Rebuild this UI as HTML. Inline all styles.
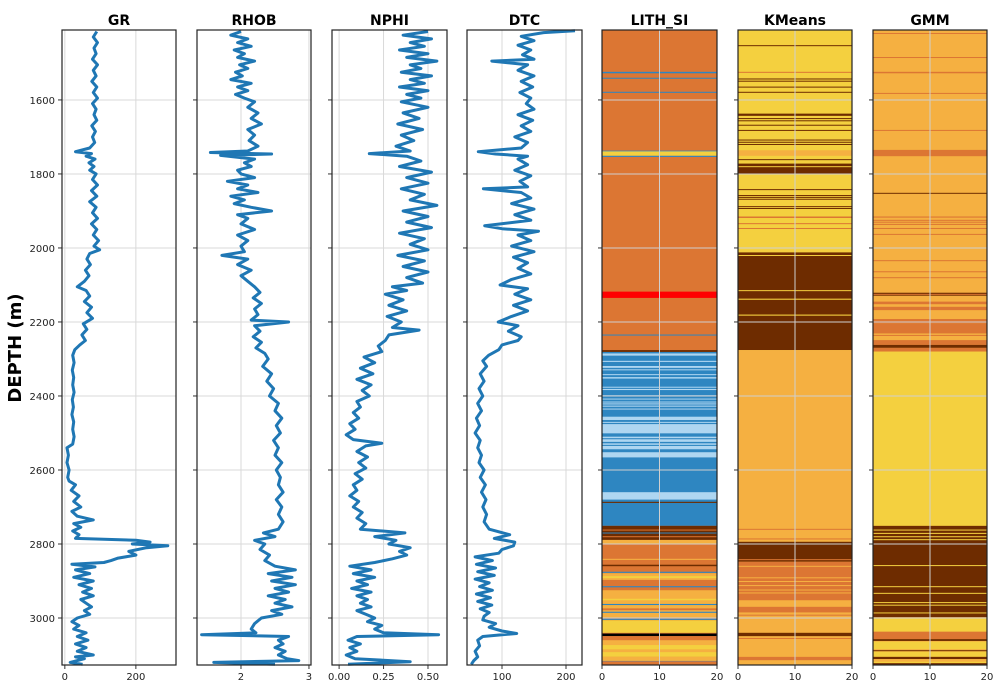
<!DOCTYPE html>
<html><head><meta charset="utf-8"><style>
body{margin:0;background:#fff;}
svg{display:block;font-family:"DejaVu Sans","Liberation Sans",sans-serif;}
</style></head><body>
<svg id="chart" width="1000" height="689" viewBox="0 0 1000 689"></svg>
<script>
// ---- data ----
const grDepth=[1415,1430,1445,1460,1475,1490,1505,1520,1535,1550,1565,1580,1595,1610,1625,1640,1655,1670,1685,1700,1715,1730,1740,1745,1752,1760,1770,1780,1790,1800,1815,1830,1845,1860,1875,1890,1905,1920,1935,1950,1965,1980,1995,2005,2015,2030,2045,2060,2075,2090,2105,2115,2130,2145,2160,2175,2190,2205,2220,2235,2250,2262,2275,2290,2310,2330,2350,2370,2390,2410,2430,2450,2470,2490,2510,2530,2540,2560,2580,2600,2620,2630,2640,2655,2670,2685,2700,2712,2725,2735,2745,2755,2765,2775,2785,2790,2795,2800,2805,2810,2820,2830,2838,2845,2850,2855,2862,2870,2880,2890,2900,2910,2920,2930,2940,2950,2960,2970,2980,2990,3000,3010,3020,3030,3040,3050,3060,3070,3080,3090,3100,3105,3110,3120,3125];
const grValue=[90,80,92,82,88,78,92,80,88,76,90,80,92,78,88,82,90,76,86,78,84,70,30,75,60,85,68,82,70,88,78,92,75,90,70,88,78,92,75,90,80,95,82,98,70,62,72,58,68,55,35,60,70,55,75,62,78,52,62,48,58,42,28,22,26,21,25,22,26,21,24,20,25,22,26,22,6,10,6,12,8,12,30,18,40,25,45,20,35,80,25,45,22,40,30,200,240,190,290,230,180,200,150,130,110,20,85,30,70,25,80,40,75,50,80,45,60,75,55,70,35,20,40,25,60,35,65,30,60,35,80,30,55,15,50];
const rhobDepth=[1415,1425,1435,1445,1455,1465,1475,1485,1495,1505,1515,1525,1535,1545,1555,1565,1575,1585,1595,1605,1620,1635,1650,1665,1680,1695,1710,1725,1738,1742,1746,1750,1760,1770,1780,1790,1800,1810,1820,1830,1840,1850,1860,1870,1880,1890,1900,1910,1920,1935,1950,1965,1980,1995,2010,2020,2030,2045,2060,2075,2090,2105,2120,2135,2150,2165,2180,2195,2200,2210,2225,2240,2255,2270,2285,2300,2320,2340,2360,2380,2400,2420,2440,2460,2480,2500,2520,2540,2560,2580,2600,2620,2640,2660,2680,2700,2720,2740,2760,2770,2780,2790,2800,2815,2830,2845,2860,2870,2880,2890,2900,2910,2920,2930,2940,2950,2960,2970,2980,2990,3000,3015,3030,3040,3045,3050,3060,3070,3080,3090,3100,3110,3115,3120,3125];
const rhobValue=[2.0,1.85,2.1,1.95,2.15,1.9,2.05,1.95,2.2,1.98,2.1,1.92,2.02,1.85,2.15,1.95,2.1,1.92,2.05,2.2,2.1,2.25,2.15,2.3,2.1,2.2,2.12,2.25,2.1,1.55,2.45,1.7,2.2,2.05,2.15,1.95,2.0,2.2,1.8,2.1,1.95,2.25,1.85,2.05,1.9,2.15,2.45,1.95,2.1,2.0,2.2,1.95,2.1,2.0,2.05,1.72,2.1,1.95,2.15,2.0,2.1,2.2,2.28,2.18,2.3,2.2,2.25,2.15,2.7,2.2,2.28,2.18,2.3,2.22,2.35,2.4,2.32,2.45,2.38,2.48,2.42,2.55,2.5,2.6,2.52,2.58,2.48,2.55,2.5,2.6,2.52,2.58,2.55,2.62,2.52,2.6,2.55,2.62,2.55,2.33,2.5,2.2,2.35,2.28,2.42,2.35,2.5,2.8,2.4,2.75,2.45,2.8,2.5,2.7,2.4,2.65,2.5,2.75,2.45,2.6,2.3,2.2,2.15,2.22,1.42,2.7,2.55,2.62,2.5,2.65,2.55,2.68,2.85,1.6,2.5];
const nphiDepth=[1415,1425,1435,1445,1455,1465,1475,1485,1495,1505,1515,1525,1535,1545,1555,1565,1575,1585,1595,1605,1620,1635,1650,1665,1680,1695,1710,1725,1738,1745,1752,1765,1780,1795,1810,1825,1840,1855,1870,1885,1900,1915,1930,1945,1960,1975,1990,2005,2020,2035,2050,2065,2080,2095,2105,2115,2125,2140,2155,2170,2185,2200,2215,2222,2235,2250,2265,2280,2295,2310,2325,2340,2355,2370,2385,2400,2415,2430,2445,2460,2475,2490,2505,2518,2528,2535,2550,2565,2580,2595,2610,2625,2640,2655,2670,2685,2700,2715,2730,2745,2760,2770,2780,2790,2800,2810,2820,2830,2840,2850,2860,2870,2880,2890,2900,2910,2920,2930,2940,2950,2960,2970,2980,2990,3000,3010,3020,3030,3040,3045,3050,3060,3070,3080,3090,3100,3110,3118,3125];
const nphiValue=[0.5,0.36,0.52,0.4,0.48,0.34,0.5,0.38,0.55,0.4,0.46,0.35,0.52,0.4,0.48,0.34,0.5,0.38,0.46,0.35,0.5,0.36,0.45,0.33,0.47,0.35,0.42,0.32,0.4,0.17,0.38,0.46,0.34,0.52,0.38,0.5,0.35,0.48,0.4,0.55,0.36,0.5,0.38,0.52,0.34,0.48,0.4,0.5,0.33,0.48,0.36,0.5,0.38,0.47,0.3,0.38,0.26,0.36,0.28,0.38,0.27,0.35,0.3,0.45,0.28,0.26,0.22,0.24,0.14,0.2,0.12,0.19,0.1,0.18,0.13,0.17,0.1,0.12,0.08,0.11,0.06,0.09,0.04,0.08,0.24,0.15,0.1,0.16,0.11,0.15,0.09,0.13,0.08,0.1,0.06,0.11,0.08,0.13,0.1,0.15,0.12,0.37,0.2,0.32,0.28,0.4,0.34,0.38,0.3,0.2,0.06,0.18,0.08,0.2,0.1,0.16,0.07,0.18,0.1,0.16,0.12,0.18,0.1,0.15,0.2,0.16,0.24,0.2,0.25,0.56,0.1,0.05,0.12,0.06,0.1,0.04,0.09,0.4,0.05];
const dtcDepth=[1413,1418,1428,1440,1452,1465,1478,1490,1495,1505,1520,1535,1550,1565,1580,1595,1610,1625,1640,1655,1670,1685,1700,1715,1730,1740,1746,1752,1760,1775,1790,1805,1820,1835,1840,1850,1865,1880,1895,1910,1925,1940,1948,1955,1965,1980,1995,2010,2025,2040,2055,2070,2085,2100,2110,2125,2140,2155,2170,2185,2200,2210,2225,2240,2250,2262,2275,2290,2305,2320,2340,2360,2380,2400,2420,2440,2460,2480,2500,2520,2540,2560,2580,2600,2620,2640,2660,2680,2700,2720,2740,2760,2775,2785,2795,2805,2815,2825,2835,2845,2855,2865,2875,2885,2895,2905,2915,2925,2935,2945,2955,2965,2975,2985,2995,3005,3015,3025,3035,3042,3050,3060,3075,3090,3105,3115,3125];
const dtcValue=[214,165,130,150,125,145,132,150,84,140,125,150,130,148,128,145,138,150,125,148,130,145,120,140,130,63,90,140,125,140,120,145,128,140,71,130,145,115,150,120,145,73,100,157,125,145,115,150,118,140,125,145,115,97,140,120,145,118,140,115,94,125,110,130,125,100,95,79,70,76,66,72,64,70,62,68,60,65,58,66,62,68,64,72,66,74,68,75,70,76,72,80,112,88,120,118,100,95,58,85,60,90,62,88,58,80,65,85,60,82,62,84,66,80,72,70,90,80,100,123,70,62,65,58,62,56,52];
const litDepthTop=[1524,1540,1578,1737,1739,1751,2118,2234,2276,2281,2285,2305,2319,2328,2341,2349,2375,2381,2398,2407,2415,2420,2426,2434,2456,2470,2476,2510,2517,2528,2535,2552,2660,2686,2751,2761,2769,2779,2789,2840,2856,2875,2879,2887,2899,2914,2925,2948,2962,2974,2983,3002,3006,3042,3049,3060,3073,3085,3092,3105,3116,3117];
const litDepthBase=[1528,1542,1580,1739,1751,1754,2135,2236,2281,2751,2291,2308,2324,2330,2343,2353,2377,2384,2400,2409,2417,2423,2429,2436,2465,2472,2501,2514,2524,2532,2544,2566,2680,2689,2789,2763,2771,2781,2800,2843,2860,2878,2897,2892,2903,2917,3001,2952,2965,2979,2986,3005,3040,3049,3060,3073,3085,3092,3105,3117,3117.8,3127];
const litClass=['sh','sh','sh','sh','ye','sh','rd','sh','br','sh','lb','lb','lb','lb','lb','lb','lb','lb','lb','lb','lb','lb','lb','lb','lb','lb','lb','lb','lb','lb','lb','lb','lb','br','br','or','sh','or','lo','lo','br','sh','lo','ye','or','sh','lo','ye','sh','or','sh','sh','ye','bk','or','lo','ye','lo','ye','lo','sh','or'];
const kmDepthTop=[1452,1524,1542,1548,1564,1578,1637,1649,1655,1667,1681,1707,1713,1719,1736,1760,1772,1779,1841,1857,1862,1867,1887,1892,1915,1933,1946,2012,2019,2114,2137,2180,2276,2759,2785,2794,2841,2848,2859,2890,2900,2911,2923,2931,2952,2970,2985,2991,3040,3054,3105];
const kmDepthBase=[1454,1526,1544,1550,1566,1580,1643,1651,1657,1669,1683,1709,1715,1721,1751,1762,1800,1781,1843,1859,1864,1869,1889,1894,1919,1935,1948,2276,2021,2116,2140,2183,3127,2761,2787,2848,2843,2970,2861,2892,2902,2913,2925,2933,2970,2985,3040,2993,3049,3056,3114];
const kmClass=['br','or','br','br','br','br','br','br','br','br','br','br','br','br','lo','br','br','ye','br','br','br','br','br','br','or','or','or','br','ye','ye','ye','ye','lo','or','or','br','or','or','lo','lo','lo','lo','lo','lo','lo','or','lo','or','br','or','or'];
const gmDepthTop=[1419,1484,1524,1581,1681,1735,1851,1915,1924,1929,1935,1946,1962,2033,2063,2079,2121,2124,2145,2159,2192,2205,2235,2249,2262,2270,2280,2751,2761,2770,2779,2787,2857,2914,2932,2957,2964,2985,2998,3001,3037,3057,3064,3087,3091,3105,3111,3118,3122];
const gmDepthBase=[1421,1486,1528,1583,1683,1752,1853,1918,1926,1931,1937,1948,1964,2035,2065,2081,2129,2126,2152,2168,2205,2231,2237,2262,2270,2280,2751,2998,2763,2772,2781,2789,2859,2916,2934,2959,2966,2987,3001,3037,3057,3062,3084,3089,3105,3111,3118,3122,3127];
const gmClass=['or','or','or','or','or','or','br','or','or','or','or','or','or','or','or','or','br','or','or','or','or','or','or','or','br','or','ye','br','ye','ye','ye','ye','ye','ye','ye','ye','ye','ye','lo','ye','or','br','ye','br','ye','br','lo','ye','br'];
const depthTicks=[1600,1800,2000,2200,2400,2600,2800,3000];
const panelTitles=['GR','RHOB','NPHI','DTC','LITH_SI','KMeans','GMM'];
const grTicks=[0,200],rhobTicks=[2,3],nphiTicks=[0,0.25,0.5],dtcTicks=[100,200],facTicks=[0,10,20];

// ---- layout ----
const svg=document.getElementById('chart');const NS='http://www.w3.org/2000/svg';
const TOP=30,BOT=665,DMIN=1411,DMAX=3127;
const yS=d=>TOP+(d-DMIN)/(DMAX-DMIN)*(BOT-TOP);
const colors={sh:'#dc7633',or:'#dc7633',lo:'#f5b041',ye:'#f4d03f',br:'#6e2c00',bl:'#2e86c1',lb:'#aed6f1',rd:'#ff0000',bk:'#000000'};
function el(t,a,p){const e=document.createElementNS(NS,t);for(const k in a)e.setAttribute(k,a[k]);(p||svg).appendChild(e);return e;}
const panels=[
 {x0:62,x1:176,min:-8,max:313,ticks:grTicks,fmt:v=>String(v)},
 {x0:197,x1:311,min:1.353,max:3.03,ticks:rhobTicks,fmt:v=>String(v)},
 {x0:332,x1:447,min:-0.04,max:0.607,ticks:nphiTicks,fmt:v=>v.toFixed(2)},
 {x0:467,x1:582,min:45.3,max:225,ticks:dtcTicks,fmt:v=>String(v)},
 {x0:602,x1:717,min:0,max:20,ticks:facTicks,fmt:v=>String(v)},
 {x0:738,x1:852,min:0,max:20,ticks:facTicks,fmt:v=>String(v)},
 {x0:873,x1:987,min:0,max:20,ticks:facTicks,fmt:v=>String(v)}];
const curves=[[grDepth,grValue],[rhobDepth,rhobValue],[nphiDepth,nphiValue],[dtcDepth,dtcValue]];
const facies=[[litDepthTop,litDepthBase,litClass],[kmDepthTop,kmDepthBase,kmClass],[gmDepthTop,gmDepthBase,gmClass]];
const facBase=['#dc7633','#f4d03f','#f5b041'];
const names=['gr','rhob','nphi','dtc','lith-si','kmeans','gmm'];
panels.forEach((p,i)=>{
  const xS=v=>p.x0+(v-p.min)/(p.max-p.min)*(p.x1-p.x0);
  const g=el('g',{});
  
  
  if(i>=4){
    const f=facies[i-4];
    const bg=el('rect',{x:p.x0,y:TOP,width:p.x1-p.x0,height:BOT-TOP,fill:facBase[i-4]},g);
    
    
    const cm=i===4?{sh:'#2e86c1',or:'#dc7633',lo:'#f5b041',ye:'#f4d03f',br:'#6e2c00',lb:'#aed6f1',rd:'#ff0000',bk:'#000'}:colors;
    f[0].forEach((t,k)=>{
      const h=Math.max(yS(f[1][k])-yS(t),1);
      const r=el('rect',{x:p.x0,y:yS(t),width:p.x1-p.x0,height:h,fill:cm[f[2][k]]},g);
      
      
    });
  }
  depthTicks.forEach(d=>{const l=el('line',{x1:p.x0,x2:p.x1,y1:yS(d),y2:yS(d),stroke:i>=4?'#cfcfcf':'#d9d9d9','stroke-width':1},g);
    });
  p.ticks.forEach(v=>{const x=xS(v);
    const l=el('line',{x1:x,x2:x,y1:TOP,y2:BOT,stroke:i>=4?'#cfcfcf':'#d9d9d9','stroke-width':1},g);
    
    const tk=el('line',{x1:x,x2:x,y1:BOT,y2:BOT+4,stroke:'#333'},g);
    
    const tx=el('text',{x:x,y:BOT+15,'font-size':10,'text-anchor':'middle',fill:'#222'},g);tx.textContent=p.fmt(v);
    });
  if(i<4){
    const [ds,vs]=curves[i];
    const pts=ds.map((d,k)=>xS(vs[k]).toFixed(1)+','+yS(d).toFixed(1)).join(' ');
    const c=el('polyline',{points:pts,fill:'none',stroke:'#1f77b4','stroke-width':3,'stroke-linejoin':'round'},g);
    
  }
  depthTicks.forEach(d=>{const tk=el('line',{x1:p.x0-4,x2:p.x0,y1:yS(d),y2:yS(d),stroke:'#333'},g);
    
    if(i===0){const t=el('text',{x:p.x0-7,y:yS(d)+4,'font-size':10,'text-anchor':'end',fill:'#222'},g);t.textContent=d;
      }});
  const fr=el('rect',{x:p.x0,y:TOP,width:p.x1-p.x0,height:BOT-TOP,fill:'none',stroke:'#222','stroke-width':1.2},g);
  
  const tt=el('text',{x:(p.x0+p.x1)/2,y:25,'font-size':14,'font-weight':'bold','text-anchor':'middle',fill:'#000'},g);
  tt.textContent=panelTitles[i];
  
});
const yl=el('text',{x:0,y:0,'font-size':18,'font-weight':'bold','text-anchor':'middle',transform:'translate(21,348) rotate(-90)',fill:'#000'});
yl.textContent='DEPTH (m)';


</script>
</body></html>
